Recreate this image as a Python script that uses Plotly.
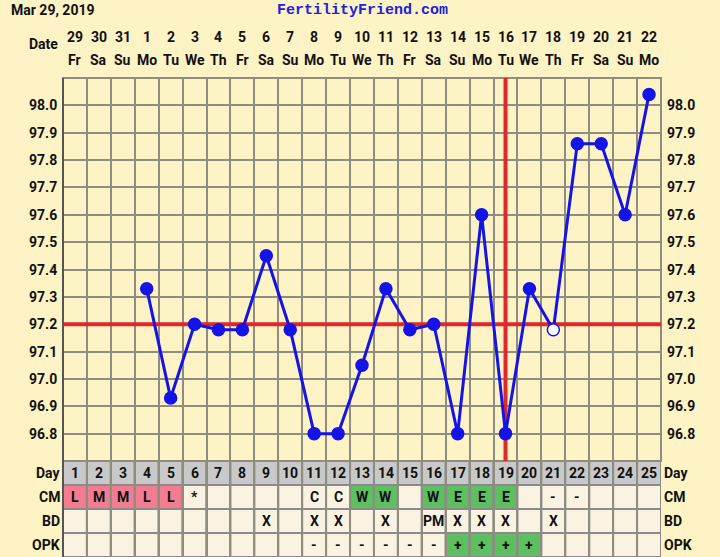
import plotly.graph_objects as go

# ---------------- data ----------------
dates = ["29", "30", "31", "1", "2", "3", "4", "5", "6", "7", "8", "9", "10",
         "11", "12", "13", "14", "15", "16", "17", "18", "19", "20", "21", "22"]
weekdays = ["Fr", "Sa", "Su", "Mo", "Tu", "We", "Th", "Fr", "Sa", "Su", "Mo", "Tu", "We",
            "Th", "Fr", "Sa", "Su", "Mo", "Tu", "We", "Th", "Fr", "Sa", "Su", "Mo"]
cycle_days = list(range(1, 26))
temps = [None, None, None, 97.33, 96.93, 97.20, 97.18, 97.18, 97.45, 97.18,
         96.80, 96.80, 97.05, 97.33, 97.18, 97.20, 96.80, 97.60, 96.80, 97.33,
         97.18, 97.86, 97.86, 97.60, 98.04]
open_days = [21]
coverline = 97.2
ovulation_day = 19
temp_range = [96.7, 98.1]
temp_ticks = [96.8, 96.9, 97.0, 97.1, 97.2, 97.3, 97.4, 97.5, 97.6, 97.7, 97.8, 97.9, 98.0]
temp_labels = ["96.8", "96.9", "97.0", "97.1", "97.2", "97.3", "97.4", "97.5",
               "97.6", "97.7", "97.8", "97.9", "98.0"]

row_names = ["Day", "CM", "BD", "OPK"]
cm = ["L", "M", "M", "L", "L", "*", "", "", "", "", "C", "C", "W", "W", "",
      "W", "E", "E", "E", "", "-", "-", "", "", ""]
bd = ["", "", "", "", "", "", "", "", "X", "", "X", "X", "", "X", "",
      "PM", "X", "X", "X", "", "X", "", "", "", ""]
opk = ["", "", "", "", "", "", "", "", "", "", "-", "-", "-", "-", "-",
       "-", "+", "+", "+", "+", "", "", "", "", ""]

# ---------------- styles ----------------
BG = "#FDF3C4"
CELL = "#FBF3E2"
DAYROW = "#C9C9C9"
PINK = "#F27D91"
GREEN = "#5DBE62"
GRID = "#8F8C80"
BORDER = "#8A8A8A"
BLUE = "#1414E6"
RED = "#E0282C"
FONT = "Roboto"
TXT = "#111111"

W, H = 720, 557
L, R, T, B = 63, 59, 78, 0
plot_h = H - T - B
table_top_px = 461
split = (H - table_top_px) / plot_h


def py(px):
    """pixel y -> paper y"""
    return (H - px) / plot_h


def cell_color(row, val):
    if row == 0:
        return DAYROW
    if row == 1 and val in ("L", "M"):
        return PINK
    if row == 1 and val in ("W", "E"):
        return GREEN
    if row == 3 and val == "+":
        return GREEN
    return CELL


fig = go.Figure()

# coverline and ovulation line as traces (under the temperature line)
fig.add_trace(go.Scatter(x=[0.5, 25.5], y=[coverline, coverline], mode="lines",
                         line=dict(color=RED, width=4), hoverinfo="skip", showlegend=False,
                         cliponaxis=False))
fig.add_trace(go.Scatter(x=[ovulation_day, ovulation_day], y=temp_range, mode="lines",
                         line=dict(color=RED, width=4), hoverinfo="skip", showlegend=False,
                         cliponaxis=False))

# temperatures
marker_fill = [("white" if d in open_days else BLUE) for d in cycle_days]
fig.add_trace(go.Scatter(
    x=cycle_days, y=temps, mode="lines+markers",
    line=dict(color=BLUE, width=3),
    marker=dict(size=12, color=marker_fill, line=dict(color=BLUE, width=1.5)),
    connectgaps=False, hoverinfo="x+y", showlegend=False))

shapes = []
annotations = []

# table cells
rows = [[str(d) for d in cycle_days], cm, bd, opk]
for r, vals in enumerate(rows):
    for i, d in enumerate(cycle_days):
        v = vals[i]
        shapes.append(dict(type="rect", xref="x", yref="y2", x0=d - 0.5, x1=d + 0.5,
                           y0=r, y1=r + 1, fillcolor=cell_color(r, v),
                           line=dict(color=BORDER, width=2), layer="below"))
        if v:
            annotations.append(dict(xref="x", yref="y2", x=d, y=r + 0.5, text="<b>%s</b>" % v,
                                    showarrow=False, font=dict(family=FONT, size=14, color=TXT),
                                    xanchor="center", yanchor="middle"))
    annotations.append(dict(xref="paper", yref="y2", x=0, y=r + 0.5, text="<b>%s</b>" % row_names[r],
                            showarrow=False, xanchor="right", yanchor="middle", xshift=-1,
                            font=dict(family=FONT, size=14, color=TXT)))
    annotations.append(dict(xref="paper", yref="y2", x=1, y=r + 0.5, text="<b>%s</b>" % row_names[r],
                            showarrow=False, xanchor="left", yanchor="middle", xshift=1,
                            font=dict(family=FONT, size=14, color=TXT)))

# borders
shapes.append(dict(type="rect", xref="x domain", yref="y domain", x0=0, x1=1, y0=0, y1=1,
                   line=dict(color=GRID, width=2), layer="below"))
shapes.append(dict(type="line", xref="paper", yref="paper", x0=0, x1=0, y0=0, y1=1,
                   line=dict(color="#555555", width=2), layer="above"))

# temperature tick labels (both sides)
for t, lab in zip(temp_ticks, temp_labels):
    annotations.append(dict(xref="paper", yref="y", x=0, y=t, text="<b>%s</b>" % lab,
                            showarrow=False, xanchor="right", yanchor="middle", xshift=-4,
                            font=dict(family=FONT, size=14, color=TXT)))
    annotations.append(dict(xref="paper", yref="y", x=1, y=t, text="<b>%s</b>" % lab,
                            showarrow=False, xanchor="left", yanchor="middle", xshift=4,
                            font=dict(family=FONT, size=14, color=TXT)))

# date header
for d, dt, wd in zip(cycle_days, dates, weekdays):
    annotations.append(dict(xref="x", yref="paper", x=d, y=py(37), text="<b>%s</b>" % dt,
                            showarrow=False, xanchor="center", yanchor="middle",
                            font=dict(family=FONT, size=14, color=TXT)))
    annotations.append(dict(xref="x", yref="paper", x=d, y=py(60), text="<b>%s</b>" % wd,
                            showarrow=False, xanchor="center", yanchor="middle",
                            font=dict(family=FONT, size=14, color=TXT)))
annotations.append(dict(xref="paper", yref="paper", x=0, y=py(44), text="<b>Date</b>",
                        showarrow=False, xanchor="right", yanchor="middle", xshift=-3,
                        font=dict(family=FONT, size=14, color=TXT)))
annotations.append(dict(xref="paper", yref="paper", x=(9 - L) / (W - L - R), y=py(0),
                        text="<b>Mar 29, 2019</b>", showarrow=False, xanchor="left",
                        yanchor="top", font=dict(family=FONT, size=14, color=TXT)))
annotations.append(dict(xref="paper", yref="paper", x=(362 - L) / (W - L - R), y=py(0),
                        text="<b>FertilityFriend.com</b>", showarrow=False, xanchor="center",
                        yanchor="top", font=dict(family="Liberation Mono", size=15, color="#1E22D8")))

grid_x = [d + 0.5 for d in range(0, 25)]
fig.update_layout(
    width=W, height=H, margin=dict(l=L, r=R, t=T, b=B, pad=0),
    paper_bgcolor=BG, plot_bgcolor=BG,
    font=dict(family=FONT, size=14, color=TXT),
    xaxis=dict(range=[0.5, 25.5], domain=[0, 1], anchor="y", tickmode="array", tickvals=grid_x,
               showticklabels=False, ticks="", showgrid=True, gridcolor=GRID, gridwidth=2,
               zeroline=False, showline=False, fixedrange=True),
    yaxis=dict(range=temp_range, domain=[split, 1], anchor="x", tickmode="array",
               tickvals=temp_ticks, showticklabels=False, ticks="", showgrid=True,
               gridcolor=GRID, gridwidth=2, zeroline=False, showline=False, fixedrange=True),
    yaxis2=dict(range=[4, 0], domain=[0, split], anchor="x", showgrid=False,
                showticklabels=False, ticks="", zeroline=False, showline=False, fixedrange=True),
    shapes=shapes, annotations=annotations, showlegend=False,
)

fig.write_html("out.html", config={"displayModeBar": False},
               post_script="document.body.style.margin='0px';document.body.style.overflow='hidden';")
